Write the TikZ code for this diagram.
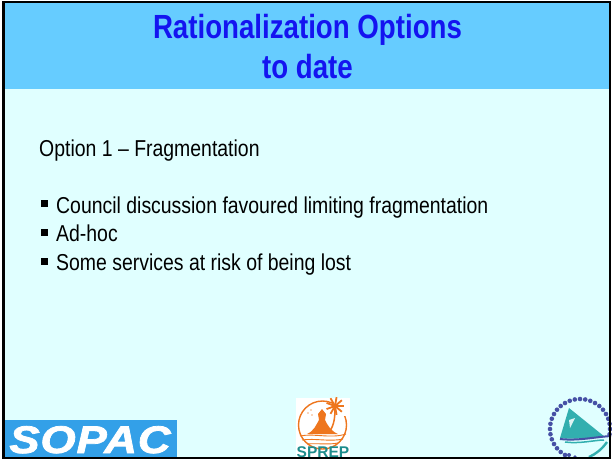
\documentclass[tikz,border=0pt]{standalone}
\usepackage{fontspec}
\setmainfont{Liberation Sans}
\newfontfamily\narrowfont[FakeStretch=0.845]{Liberation Sans}
\newfontfamily\narrowtitle[FakeStretch=0.826]{Liberation Sans Bold}
\newfontfamily\sopacfont[FakeStretch=1.18,FakeBold=2,LetterSpace=2]{Liberation Sans Bold Italic}
\definecolor{bodybg}{RGB}{224,255,255}
\definecolor{headbg}{RGB}{102,204,255}
\definecolor{titleblue}{RGB}{20,20,240}
\definecolor{sopacblue}{RGB}{51,160,232}
\definecolor{sprepor}{RGB}{238,118,30}
\definecolor{spreptl}{RGB}{30,140,140}
\definecolor{secdot}{RGB}{70,80,165}
\definecolor{secteal}{RGB}{50,175,175}
\tikzset{
 titletext/.style={font=\narrowtitle\fontsize{33.5}{34}\selectfont,text=titleblue,inner sep=0pt,anchor=base},
 bodytext/.style={font=\narrowfont\fontsize{23}{25}\selectfont,text=black,inner sep=0pt,anchor=base west},
 bullet/.style={fill=black,draw=none}
}
\begin{document}
\begin{tikzpicture}[x=1pt,y=-1pt]
\useasboundingbox (0,0) rectangle (612,461);
\fill[white] (0,0) rectangle (612,461);
\fill[bodybg] (3,2) rectangle (610,458);
\fill[headbg] (3,2) rectangle (610,89);
% SOPAC logo
\fill[sopacblue] (4,420) rectangle (177,457);
\node[inner sep=0pt,anchor=base,text=white,font=\sopacfont\fontsize{38.5}{39}\selectfont] (sopac) at (90,453) {SOPAC};
% SPREP logo
\fill[white] (296,398) rectangle (350,458);
\draw[sprepor,line width=1.4pt] (322.5,425) circle (24);
\fill[white] (333,398) rectangle (350,416);
\fill[sprepor] (307,434) .. controls (314,431) and (316,425) .. (319,420) -- (318,414) -- (322,409) -- (326,414) -- (325,420) .. controls (328,426) and (331,431) .. (338,434) -- cycle;
\draw[sprepor,line width=1.5pt] (329,432) .. controls (335,425) and (335,414) .. (335,407);
\foreach \a in {0,40,...,320}{\draw[sprepor,line width=1.8pt] (335,406) -- ++(\a:9);}
\fill[sprepor!60] (308,413) circle (0.8) (311,410) circle (0.8) (312,415) circle (0.8);
\draw[sprepor,line width=.9pt] (300,436) .. controls (315,433) and (330,439) .. (346,434);
\draw[sprepor,line width=.9pt] (302,440) .. controls (315,438) and (330,442) .. (343,439);
\draw[sprepor,line width=.9pt] (307,444) .. controls (318,443) and (328,445) .. (338,443);
\node[inner sep=0pt,anchor=base,text=spreptl,font=\fontsize{15.5}{16}\selectfont\bfseries] (sprep) at (323,457) {SPREP};
% SPC logo
\foreach \a in {120,130,...,370}{\fill[secdot] (580,429)++(\a:30) circle (2.3);}
\fill[secdot] (575,457) circle (1.8) (569,455) circle (2);
\fill[secteal] (569,408) -- (605,437) .. controls (590,437) and (575,440) .. (560,438) -- cycle;
\fill[white!85!secteal] (569,420) -- (575,418) -- (570,428) -- cycle;
\draw[secdot,line width=2pt] (560,439) .. controls (578,441) and (595,437) .. (611,436);
\draw[secteal,line width=1.5pt] (565,442) .. controls (580,444) and (595,440) .. (604,440);
\draw[secteal,line width=2.4pt] (607,442) .. controls (602,449) and (596,454) .. (589,457);
% frame
\draw[black,line width=2.2pt] (3.5,2) -- (610,2) -- (610,458) -- (3.5,458) -- cycle;
% title
\node[titletext] (t1) at (307.5,38) {Rationalization Options};
\node[titletext] (t2) at (307.5,78) {to date};
% body
\node[bodytext] (opt) at (39,156.5) {Option 1 – Fragmentation};
\fill[bullet] (41,200) rectangle (48,207.2);
\node[bodytext] (b1) at (56,213) {Council discussion favoured limiting fragmentation};
\fill[bullet] (41,228.7) rectangle (48,236);
\node[bodytext] (b2) at (56,241.5) {Ad-hoc};
\fill[bullet] (41,257.5) rectangle (48,264.7);
\node[bodytext] (b3) at (56,270) {Some services at risk of being lost};
\end{tikzpicture}
\end{document}
